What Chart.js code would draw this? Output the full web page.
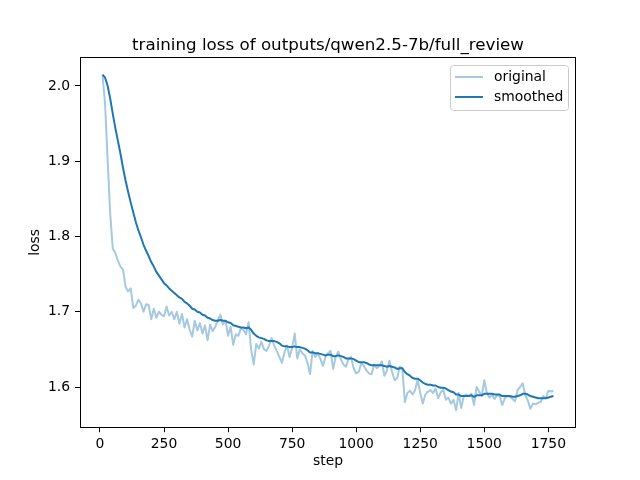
<!DOCTYPE html>
<html lang="en">
<head>
  <meta charset="UTF-8" />
  <title>training loss</title>
  <style>
    html, body { margin: 0; padding: 0; background: #fff; }
    canvas { display: block; }
  </style>
</head>
<body>

<canvas id="lossChart" width="640" height="480"></canvas>

<script src="https://cdn.jsdelivr.net/npm/chart.js"></script>
<script>
  // raw loss, logged every 10 steps starting at step 10
  const original = [
    2.015, 1.975, 1.900, 1.830, 1.784, 1.778, 1.768, 1.760, 1.756, 1.733,
    1.727, 1.731, 1.705, 1.708, 1.716, 1.711, 1.700, 1.710, 1.709, 1.690,
    1.704, 1.692, 1.700, 1.696, 1.694,
    1.707, 1.695, 1.700, 1.690, 1.700, 1.684, 1.697, 1.679, 1.690, 1.676,
    1.667, 1.688, 1.675, 1.685, 1.671, 1.682, 1.662, 1.683, 1.674, 1.680,
    1.689, 1.696, 1.683, 1.688, 1.668, 1.680, 1.656, 1.670, 1.668, 1.678,
    1.676, 1.670, 1.686, 1.650, 1.630, 1.657, 1.651, 1.660, 1.650, 1.648,
    1.655, 1.665, 1.655, 1.648, 1.640, 1.632, 1.646, 1.655, 1.640, 1.652,
    1.671, 1.638, 1.650, 1.645, 1.642, 1.632, 1.617, 1.648, 1.640, 1.645,
    1.638, 1.628, 1.640, 1.645, 1.648, 1.624, 1.640, 1.647, 1.637, 1.630,
    1.627, 1.637, 1.640, 1.625, 1.618, 1.620, 1.632, 1.628, 1.622, 1.618,
    1.617, 1.630, 1.625, 1.628, 1.634, 1.615, 1.622, 1.635, 1.620, 1.609,
    1.612, 1.627, 1.625, 1.580, 1.592, 1.595, 1.590, 1.596, 1.610, 1.592,
    1.578, 1.590, 1.594, 1.596, 1.592, 1.598, 1.585, 1.593, 1.596, 1.583,
    1.586, 1.578, 1.583, 1.569, 1.592, 1.572, 1.588, 1.590, 1.588, 1.591,
    1.576, 1.600, 1.594, 1.588, 1.609, 1.592, 1.586, 1.590, 1.584, 1.589,
    1.588, 1.576, 1.585, 1.588, 1.587, 1.584, 1.581, 1.596, 1.600, 1.605,
    1.589, 1.582, 1.571, 1.578, 1.577, 1.579, 1.580, 1.588, 1.585, 1.595,
    1.594, 1.595
  ];

  const smoothed = [
    2.015, 2.011, 2.000, 1.983, 1.963, 1.944, 1.927, 1.910, 1.891, 1.874,
    1.859, 1.845, 1.832, 1.819, 1.808, 1.799, 1.789, 1.781, 1.774, 1.766,
    1.760, 1.753, 1.748, 1.743, 1.738,
    1.735, 1.731, 1.728, 1.725, 1.722, 1.719, 1.717, 1.713, 1.711, 1.708,
    1.704, 1.703, 1.700, 1.699, 1.696, 1.695, 1.692, 1.691, 1.689, 1.688,
    1.688, 1.689, 1.688, 1.688, 1.686, 1.685, 1.682, 1.681, 1.680, 1.679,
    1.679, 1.678, 1.679, 1.676, 1.671, 1.668, 1.666, 1.665, 1.664, 1.662,
    1.661, 1.661, 1.661, 1.660, 1.658, 1.655, 1.654, 1.654, 1.653, 1.653,
    1.654, 1.653, 1.653, 1.652, 1.651, 1.649, 1.646, 1.646, 1.645, 1.645,
    1.644, 1.643, 1.642, 1.643, 1.643, 1.641, 1.641, 1.642, 1.641, 1.640,
    1.638, 1.638, 1.638, 1.637, 1.635, 1.633, 1.633, 1.633, 1.632, 1.630,
    1.629, 1.629, 1.629, 1.629, 1.629, 1.628, 1.627, 1.628, 1.627, 1.626,
    1.624, 1.625, 1.625, 1.620, 1.617, 1.615, 1.612, 1.611, 1.611, 1.609,
    1.606, 1.604, 1.603, 1.603, 1.602, 1.602, 1.600, 1.599, 1.599, 1.598,
    1.596, 1.594, 1.593, 1.590, 1.590, 1.588, 1.588, 1.588, 1.588, 1.589,
    1.587, 1.589, 1.589, 1.589, 1.591, 1.591, 1.591, 1.591, 1.590, 1.590,
    1.590, 1.588, 1.588, 1.588, 1.588, 1.587, 1.587, 1.588, 1.589, 1.591,
    1.591, 1.590, 1.588, 1.587, 1.586, 1.585, 1.585, 1.585, 1.585, 1.586,
    1.587, 1.588
  ];

  const steps = original.map((_, i) => 10 + 10 * i);
  const xTicks = [0, 250, 500, 750, 1000, 1250, 1500, 1750];
  const yTicks = [1.6, 1.7, 1.8, 1.9, 2.0];

  const seriesNames = ['original', 'smoothed'];
  const chartTitle = 'training loss of outputs/qwen2.5-7b/full_review';

  const FONT = '"DejaVu Sans", sans-serif';
  const C0 = '#1f77b4';
  const C0_LIGHT = 'rgba(31,119,180,0.4)';

  // title, axis labels, full frame and legend drawn the matplotlib way
  const decor = {
    id: 'decor',
    afterDatasetsDraw(chart) {
      const { ctx, chartArea: a } = chart;
      ctx.save();
      ctx.strokeStyle = '#000';
      ctx.lineWidth = 1;
      ctx.strokeRect(80.5, 57.5, 495, 370);

      ctx.fillStyle = '#000';
      ctx.textAlign = 'center';
      ctx.font = '16.7px ' + FONT;
      ctx.textBaseline = 'alphabetic';
      ctx.fillText(chartTitle, (a.left + a.right) / 2, 49.5);

      ctx.font = '13.9px ' + FONT;
      ctx.textBaseline = 'middle';
      ctx.fillText('step', (a.left + a.right) / 2, 461);
      ctx.translate(35, (a.top + a.bottom) / 2);
      ctx.rotate(-Math.PI / 2);
      ctx.fillText('loss', 0, 0);
      ctx.restore();

      // legend
      ctx.save();
      const bx = 450.5, by = 65.5, bw = 118, bh = 45, r = 3;
      ctx.beginPath();
      ctx.moveTo(bx + r, by);
      ctx.arcTo(bx + bw, by, bx + bw, by + bh, r);
      ctx.arcTo(bx + bw, by + bh, bx, by + bh, r);
      ctx.arcTo(bx, by + bh, bx, by, r);
      ctx.arcTo(bx, by, bx + bw, by, r);
      ctx.closePath();
      ctx.fillStyle = 'rgba(255,255,255,0.8)';
      ctx.fill();
      ctx.strokeStyle = '#cccccc';
      ctx.lineWidth = 1;
      ctx.stroke();

      const colors = [C0_LIGHT, C0];
      ctx.font = '13.9px ' + FONT;
      ctx.textAlign = 'left';
      ctx.textBaseline = 'middle';
      seriesNames.forEach((name, i) => {
        const y = 77 + i * 20;
        ctx.strokeStyle = colors[i];
        ctx.lineWidth = 2;
        ctx.beginPath();
        ctx.moveTo(455, y);
        ctx.lineTo(483, y);
        ctx.stroke();
        ctx.fillStyle = '#000';
        ctx.fillText(name, 494, y);
      });
      ctx.restore();
    }
  };

  new Chart(document.getElementById('lossChart'), {
    type: 'line',
    data: {
      labels: steps,
      datasets: [
        {
          label: seriesNames[0],
          data: steps.map((s, i) => ({ x: s, y: original[i] })),
          borderColor: C0_LIGHT,
          borderWidth: 2,
          borderJoinStyle: 'round',
          pointRadius: 0,
          tension: 0
        },
        {
          label: seriesNames[1],
          data: steps.map((s, i) => ({ x: s, y: smoothed[i] })),
          borderColor: C0,
          borderWidth: 2,
          borderJoinStyle: 'round',
          pointRadius: 0,
          tension: 0
        }
      ]
    },
    options: {
      responsive: false,
      animation: false,
      devicePixelRatio: 1,
      layout: { padding: { top: 57.6, right: 64, left: 0, bottom: 0 } },
      plugins: {
        legend: { display: false },
        title: { display: false },
        tooltip: { enabled: false }
      },
      scales: {
        x: {
          type: 'linear',
          min: -78,
          max: 1858,
          afterFit: s => { s.height = 52.8; },
          afterBuildTicks: s => { s.ticks = xTicks.map(v => ({ value: v })); },
          grid: { drawOnChartArea: false, tickLength: 5, tickColor: '#000', tickWidth: 1 },
          border: { display: false },
          ticks: {
            autoSkip: false, maxRotation: 0, padding: 4,
            color: '#000', font: { family: FONT, size: 13.9 },
            callback: v => String(v)
          }
        },
        y: {
          min: 1.5466,
          max: 2.0377,
          afterFit: s => { s.width = 80; },
          afterBuildTicks: s => { s.ticks = yTicks.map(v => ({ value: v })); },
          grid: { drawOnChartArea: false, tickLength: 5, tickColor: '#000', tickWidth: 1 },
          border: { display: false },
          ticks: {
            padding: 5,
            color: '#000', font: { family: FONT, size: 13.9 },
            callback: v => v.toFixed(1)
          }
        }
      }
    },
    plugins: [decor]
  });
</script>

</body>
</html>
